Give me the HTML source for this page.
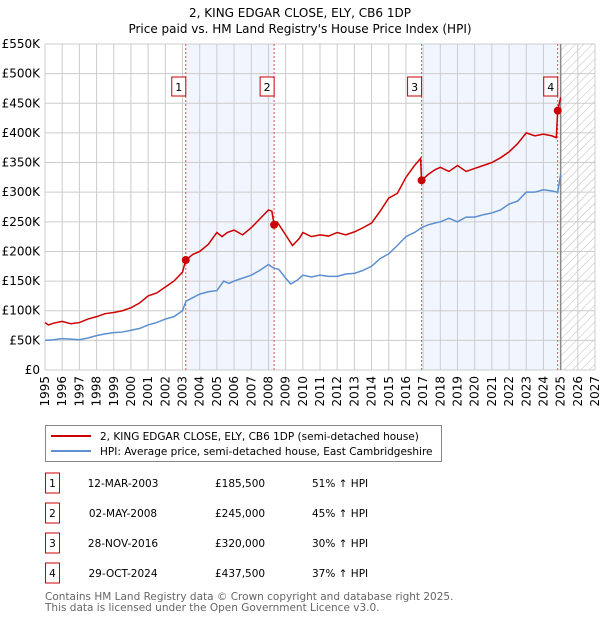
<!DOCTYPE html>
<html><head><meta charset="utf-8"><style>
body{margin:0;background:#fff;font-family:"DejaVu Sans","Liberation Sans",sans-serif}
svg text{font-family:"DejaVu Sans","Liberation Sans",sans-serif}
</style></head><body>
<svg id="c" width="600" height="620" xmlns="http://www.w3.org/2000/svg"></svg>
<script>
const yearTicks=[1995,1996,1997,1998,1999,2000,2001,2002,2003,2004,2005,2006,2007,2008,2009,2010,2011,2012,2013,2014,2015,2016,2017,2018,2019,2020,2021,2022,2023,2024,2025,2026,2027];
const priceTicks=[0,50,100,150,200,250,300,350,400,450,500,550];
const hpiYears=[1995,1995.5,1996,1996.5,1997,1997.5,1998,1998.5,1999,1999.5,2000,2000.5,2001,2001.5,2002,2002.5,2003,2003.2,2003.6,2004,2004.5,2005,2005.4,2005.7,2006,2006.5,2007,2007.5,2008,2008.3,2008.6,2009,2009.3,2009.7,2010,2010.5,2011,2011.5,2012,2012.5,2013,2013.5,2014,2014.5,2015,2015.5,2016,2016.5,2016.9,2017.3,2017.7,2018,2018.5,2019,2019.5,2020,2020.5,2021,2021.5,2022,2022.5,2023,2023.5,2024,2024.5,2024.83,2025.0];
const hpiValues=[50,51,53,52,51,54,58,61,63,64,67,70,76,80,86,90,100,116,122,128,132,134,150,146,150,155,160,168,178,172,170,155,145,152,160,157,160,158,158,162,163,168,175,188,196,210,225,232,240,245,248,250,256,250,258,258,262,265,270,280,285,300,300,304,302,300,330];
const saleYears=[2003.19,2008.33,2016.91,2024.83];
const saleValues=[185.5,245,320,437.5];
const redYears=[1995,1995.2,1995.5,1996,1996.5,1997,1997.5,1998,1998.5,1999,1999.5,2000,2000.5,2001,2001.5,2002,2002.5,2003,2003.19,2003.6,2004,2004.5,2005,2005.3,2005.6,2006,2006.5,2007,2007.5,2008,2008.2,2008.33,2008.5,2009,2009.4,2009.8,2010,2010.5,2011,2011.5,2012,2012.5,2013,2013.5,2014,2014.5,2015,2015.5,2016,2016.5,2016.85,2016.91,2017.3,2017.7,2018,2018.5,2019,2019.5,2020,2020.5,2021,2021.5,2022,2022.5,2023,2023.5,2024,2024.5,2024.75,2024.83,2025.0];
const redValues=[80,76,79,82,78,80,86,90,95,97,100,105,113,125,130,140,150,165,185.5,195,200,212,232,225,232,236,228,240,255,270,268,245,250,228,210,222,232,225,228,226,232,228,233,240,248,268,290,298,325,345,357,320,330,338,342,335,345,335,340,345,350,358,368,382,400,395,398,395,392,437.5,460];
const X=y=>45+(y-1995)*550/32;
const Y=v=>370-v*326/550;
const s=document.getElementById('c');
const NS='http://www.w3.org/2000/svg';
function mk(t,a,p){const e=document.createElementNS(NS,t);for(const k in a)e.setAttribute(k,a[k]);(p||s).appendChild(e);return e;}
function tx(x,y,str,a){const e=mk('text',Object.assign({x:x,y:y,'font-size':12,fill:'#000'},a||{}));e.textContent=str;return e;}
let t=tx(300,17,'2, KING EDGAR CLOSE, ELY, CB6 1DP',{'text-anchor':'middle','font-size':12});

t=tx(300,33,"Price paid vs. HM Land Registry's House Price Index (HPI)",{'text-anchor':'middle','font-size':12});

// shading
[[0,1],[2,3]].forEach((p,i)=>{const r=mk('rect',{x:X(saleYears[p[0]]),y:44,width:X(saleYears[p[1]])-X(saleYears[p[0]]),height:326,fill:'#eef3fd',opacity:0.8});
});
// hatch
const defs=mk('defs',{});const pat=mk('pattern',{id:'h',width:6,height:6,patternUnits:'userSpaceOnUse',patternTransform:'rotate(45)'},defs);
mk('line',{x1:0,y1:0,x2:0,y2:6,stroke:'#bbb','stroke-width':1},pat);
const hr=mk('rect',{x:X(2025),y:44,width:X(2027)-X(2025),height:326,fill:'url(#h)'});

// grid
yearTicks.forEach(y=>{const l=mk('line',{x1:X(y),x2:X(y),y1:44,y2:370,stroke:'#ccc'});

const t=tx(0,0,String(y),{transform:`translate(${X(y)+4},${376}) rotate(-90)`,'text-anchor':'end','font-size':12});
});
priceTicks.forEach(v=>{const l=mk('line',{x1:45,x2:595,y1:Y(v),y2:Y(v),stroke:'#ccc'});

const t=tx(40,Y(v)+4,v==0?'£0':'£'+v+'K',{'text-anchor':'end','font-size':12});
});
const nl=mk('line',{x1:X(2025),x2:X(2025),y1:44,y2:370,stroke:'#888','stroke-width':1.5});

// sale lines
saleYears.forEach((y,i)=>{const l=mk('line',{x1:X(y),x2:X(y),y1:44,y2:370,stroke:'#e05050','stroke-dasharray':'2,2','stroke-width':1});

const r=mk('rect',{x:X(y)-14,y:77,width:14,height:19,fill:'#fff',stroke:'#c00'});

const t=tx(X(y)-7,91,String(i+1),{'text-anchor':'middle','font-size':11});
});
// series
const hp=mk('polyline',{points:hpiYears.map((y,i)=>X(y)+','+Y(hpiValues[i])).join(' '),fill:'none',stroke:'#5b8fd0','stroke-width':1.5});

const rp=mk('polyline',{points:redYears.map((y,i)=>X(y)+','+Y(redValues[i])).join(' '),fill:'none',stroke:'#cc0000','stroke-width':1.5});

saleYears.forEach((y,i)=>{const c=mk('circle',{cx:X(y),cy:Y(saleValues[i]),r:4,fill:'#cc0000'});
});
// legend
const lg=mk('g',{});
mk('rect',{x:45.5,y:425.5,width:396,height:36,fill:'#fff',stroke:'#888'},lg);
mk('line',{x1:51,x2:91,y1:436,y2:436,stroke:'#cc0000','stroke-width':2},lg);
mk('line',{x1:51,x2:91,y1:451,y2:451,stroke:'#5b8fd0','stroke-width':2},lg);
t=tx(100,440,'2, KING EDGAR CLOSE, ELY, CB6 1DP (semi-detached house)',{'font-size':10.5});lg.appendChild(t);
t=tx(100,455,'HPI: Average price, semi-detached house, East Cambridgeshire',{'font-size':10.5});lg.appendChild(t);
// table
const dates=['12-MAR-2003','02-MAY-2008','28-NOV-2016','29-OCT-2024'];
const prices=['£185,500','£245,000','£320,000','£437,500'];
const pcts=['51% ↑ HPI','45% ↑ HPI','30% ↑ HPI','37% ↑ HPI'];
dates.forEach((d,i)=>{const yy=483+i*30;
const g=mk('g',{});
mk('rect',{x:45.5,y:yy-10,width:14,height:20,fill:'#fff',stroke:'#c00'},g);
let e=tx(52.5,yy+4,String(i+1),{'text-anchor':'middle','font-size':10.5});g.appendChild(e);
e=tx(123,yy+4,d,{'text-anchor':'middle','font-size':10.5});g.appendChild(e);
e=tx(215,yy+4,prices[i],{'font-size':10.5});g.appendChild(e);
e=tx(312,yy+4,pcts[i],{'font-size':10.5});g.appendChild(e);});
t=tx(45,600,'Contains HM Land Registry data © Crown copyright and database right 2025.',{'font-size':10.5,fill:'#666'});
t=tx(45,611,'This data is licensed under the Open Government Licence v3.0.',{'font-size':10.5,fill:'#666'});
</script>
</body></html>
